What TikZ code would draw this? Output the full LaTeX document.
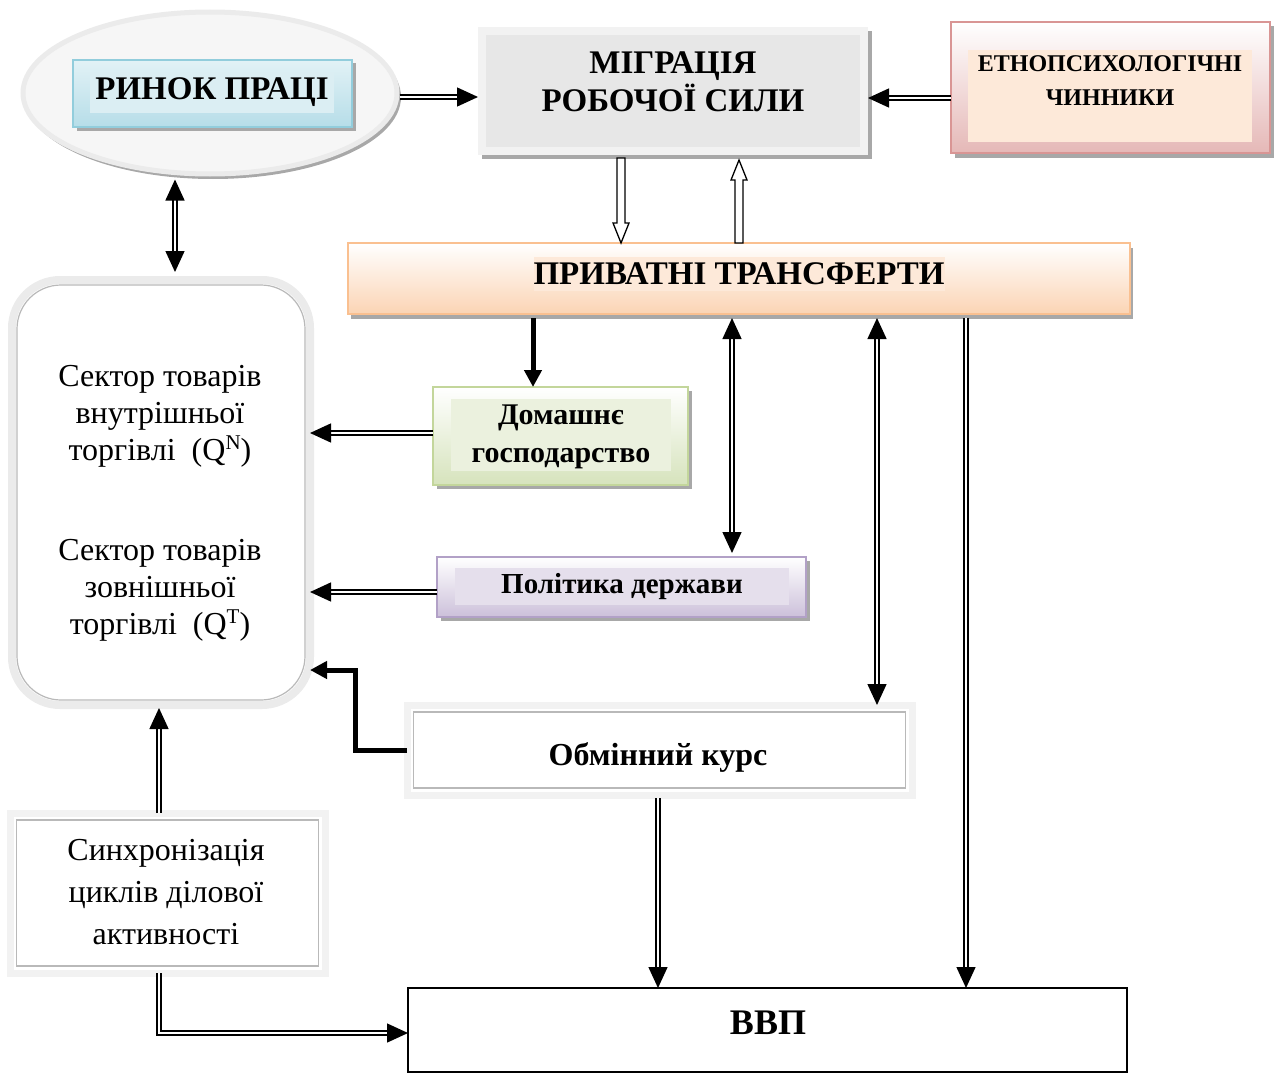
\documentclass[tikz,border=0pt]{standalone}
\usepackage{fontspec}
\setmainfont{Liberation Serif}
\usetikzlibrary{arrows.meta,calc,shapes.geometric}
\definecolor{ellfill}{HTML}{F6F6F6}
\definecolor{ellline}{HTML}{EBEBEB}
\definecolor{bluetop}{HTML}{E2F2F6}
\definecolor{bluebot}{HTML}{B6DDE8}
\definecolor{blueline}{HTML}{92CDDC}
\definecolor{bluein}{HTML}{DBEEF3}
\definecolor{migout}{HTML}{F2F2F2}
\definecolor{migin}{HTML}{E7E7E7}
\definecolor{redline}{HTML}{D99594}
\definecolor{redbot}{HTML}{E5B8B7}
\definecolor{peach}{HTML}{FDE9D9}
\definecolor{orline}{HTML}{FAC090}
\definecolor{orbot}{HTML}{FBD4B4}
\definecolor{grline}{HTML}{C3D69B}
\definecolor{grbot}{HTML}{D6E3BC}
\definecolor{grin}{HTML}{EBF1DE}
\definecolor{puline}{HTML}{B2A1C7}
\definecolor{pubot}{HTML}{CCC0DA}
\definecolor{puin}{HTML}{E5DFEC}
\definecolor{shadowc}{HTML}{A8A8A8}
\newcommand{\fbig}{\fontsize{33}{38}\selectfont\bfseries}
\newcommand{\fmid}{\fontsize{30}{38}\selectfont\bfseries}
\newcommand{\fsmall}{\fontsize{24}{34}\selectfont\bfseries}
\newcommand{\freg}{\fontsize{32}{37}\selectfont}
\newcommand{\supr}[1]{\raisebox{11pt}{\fontsize{21}{21}\selectfont #1}}
\begin{document}
\begin{tikzpicture}[x=1pt,y=-1pt,
  box/.style={rectangle, inner sep=0pt, outer sep=0pt},
  shad/.style={box, fill=shadowc},
  txt/.style={inner sep=0pt, align=center},
  dbl/.style={double, double distance=2.6pt, line width=1.4pt},
  tip/.style={-{Triangle[length=21pt,width=19pt]}},
  tips/.style={{Triangle[length=21pt,width=19pt]}-{Triangle[length=21pt,width=19pt]}},
  thickarr/.style={line width=5pt, -{Triangle[length=17pt,width=17pt]}},
  hollow/.style={line width=1.3pt, fill=white, draw=black},
  frame/.style={box, draw=migout, line width=7pt, fill=white},
  framein/.style={box, draw=gray!55, line width=1.2pt}
]
\useasboundingbox (0,0) rectangle (1274,1073);

% ---- Ринок праці
\node (ellsh) [ellipse, fill=shadowc, minimum width=376pt, minimum height=164pt, inner sep=0] at (213,97) {};
\node (ell) [ellipse, draw=ellline, line width=5pt, fill=ellfill, minimum width=374pt, minimum height=162pt, inner sep=0] at (210,93) {};
\node (rpsh) [shad, minimum width=279pt, minimum height=67pt] at (216,97) {};
\node (rp) [box, draw=blueline, line width=1.5pt, top color=bluetop, bottom color=bluebot, minimum width=279pt, minimum height=67pt] at (212.5,93.5) {};
\node (rpt) [box, fill=bluein, minimum width=244pt, minimum height=41pt, font=\fbig] at (212,92.5) {РИНОК ПРАЦІ};

% ---- Міграція
\node (migsh) [shad, minimum width=390pt, minimum height=128pt] at (677,95) {};
\node (mig) [box, fill=migout, minimum width=390pt, minimum height=128pt] at (673,91) {};
\node (migi) [box, fill=migin, minimum width=374pt, minimum height=112pt] at (673,91) {};
\node (migt) [txt, font=\fbig] at (673,82) {МІГРАЦІЯ\\РОБОЧОЇ СИЛИ};

% ---- Етнопсихологічні
\node (etsh) [shad, minimum width=319pt, minimum height=131pt] at (1114,92) {};
\node (et) [box, draw=redline, line width=2pt, top color=white, bottom color=redbot, minimum width=319pt, minimum height=131pt] at (1110.5,87.5) {};
\node (eti) [box, fill=peach, minimum width=284pt, minimum height=92pt] at (1110,96) {};
\node (ett) [txt, font=\fsmall] at (1110,81) {ЕТНОПСИХОЛОГІЧНІ\\ЧИННИКИ};

% ---- Приватні трансферти
\node (prsh) [shad, minimum width=782pt, minimum height=71pt] at (742,283) {};
\node (pr) [box, draw=orline, line width=2pt, top color=white, bottom color=orbot, minimum width=782pt, minimum height=71pt] at (739,278.5) {};
\node (prt) [box, fill=peach, minimum width=408pt, minimum height=34pt, font=\fbig] at (739,273.5) {ПРИВАТНІ ТРАНСФЕРТИ};

% ---- Домашнє господарство
\node (dosh) [shad, minimum width=255pt, minimum height=98pt] at (564,440) {};
\node (do) [box, draw=grline, line width=2pt, top color=white, bottom color=grbot, minimum width=255pt, minimum height=98pt] at (560.5,436) {};
\node (doi) [box, fill=grin, minimum width=220pt, minimum height=72pt] at (561,435) {};
\node (dot) [txt, font=\fmid] at (561,437) {Домашнє\\господарство};

% ---- Політика держави
\node (posh) [shad, minimum width=369pt, minimum height=60pt] at (625,591) {};
\node (po) [box, draw=puline, line width=2pt, top color=white, bottom color=pubot, minimum width=369pt, minimum height=60pt] at (621.5,587) {};
\node (poi) [box, fill=puin, minimum width=334pt, minimum height=37pt] at (622,586.5) {};
\node (pot) [txt, font=\fontsize{29}{38}\selectfont\bfseries] at (622,587) {Політика держави};

% ---- Сектори
\node (sec) [box, rounded corners=48pt, draw=ellline, line width=8pt, fill=white, minimum width=298pt, minimum height=425pt] at (161,492.5) {};
\node (seci) [box, rounded corners=44pt, draw=gray!55, line width=1.2pt, minimum width=288pt, minimum height=415pt] at (161,492.5) {};
\node (secN) [txt, font=\freg] at (160,416) {Сектор товарів\\внутрішньої\\торгівлі~~(Q\supr{N})};
\node (secT) [txt, font=\freg] at (160,590) {Сектор товарів\\зовнішньої\\торгівлі~~(Q\supr{T})};

% ---- Обмінний курс
\node (obsh) [shad, minimum width=505pt, minimum height=90pt] at (662,753) {};
\node (ob) [frame, minimum width=505pt, minimum height=90pt] at (659.5,750) {};
\node (obi) [framein, minimum width=492pt, minimum height=76pt] at (659.5,750) {};
\node (obt) [txt, font=\fontsize{32}{38}\selectfont\bfseries] at (658,757) {Обмінний курс};

% ---- Синхронізація
\node (sysh) [shad, minimum width=315pt, minimum height=160pt] at (170,896) {};
\node (sy) [frame, minimum width=315pt, minimum height=160pt] at (167.5,893) {};
\node (syi) [framein, minimum width=302pt, minimum height=146pt] at (167.5,893) {};
\node (syt) [txt, font=\fontsize{32}{42}\selectfont] at (166,892) {Синхронізація\\циклів ділової\\активності};

% ---- ВВП
\node (vvp) [box, draw=black, line width=1.5pt, fill=white, minimum width=719pt, minimum height=84pt] at (767.5,1030) {};
\node (vvpt) [txt, font=\fontsize{36}{40}\selectfont\bfseries] at (768,1023) {ВВП};

% ---- connectors
\draw[dbl, tip] (ell.east |- 0,97) -- (mig.west |- 0,97);
\draw[dbl, tip] (et.west |- 0,98) -- (mig.east |- 0,98);
\draw[dbl, tips, shorten <=3pt, shorten >=8pt] (ell.south -| 175,0) -- (sec.north -| 175,0);
\draw[dbl, tip] (do.west |- 0,433) -- (sec.east |- 0,433);
\draw[dbl, tip] (po.west |- 0,592) -- (sec.east |- 0,592);
\draw[thickarr, shorten <=4pt] (pr.south -| 533,0) -- (do.north -| 533,0);
\draw[dbl, tips, shorten <=4pt, shorten >=4pt] (pr.south -| 732,0) -- (po.north -| 732,0);
\draw[dbl, tips, shorten <=4pt] (pr.south -| 877,0) -- (ob.north -| 877,0);
\draw[dbl, tip, shorten <=4pt] (pr.south -| 966,0) -- (vvp.north -| 966,0);
\draw[dbl, tip, shorten <=3pt] (ob.south -| 658,0) -- (vvp.north -| 658,0);
\draw[dbl, tip, shorten >=3pt] (sy.north -| 159,0) -- (sec.south -| 159,0);
\draw[dbl, tip] (sy.south -| 159,0) |- (vvp.west |- 0,1033);
\draw[thickarr] (ob.west) -- ++(-52,0) |- (sec.east |- 0,670);

% hollow arrows
\draw[hollow] let \p1=(mig.south -| 621,0), \p2=(pr.north -| 621,0) in
  (\x1-4pt,\y1-3pt) -- (\x1+4pt,\y1-3pt) -- (\x1+4pt,\y2+20pt) -- (\x1+8pt,\y2+20pt)
  -- (\x1,\y2) -- (\x1-8pt,\y2+20pt) -- (\x1-4pt,\y2+20pt) -- cycle;
\draw[hollow] let \p1=(pr.north -| 739,0), \p2=(mig.south -| 739,0) in
  (\x1-4pt,\y1) -- (\x1+4pt,\y1) -- (\x1+4pt,\y2-25pt) -- (\x1+8pt,\y2-25pt)
  -- (\x1,\y2-5pt) -- (\x1-8pt,\y2-25pt) -- (\x1-4pt,\y2-25pt) -- cycle;
\end{tikzpicture}
\end{document}
